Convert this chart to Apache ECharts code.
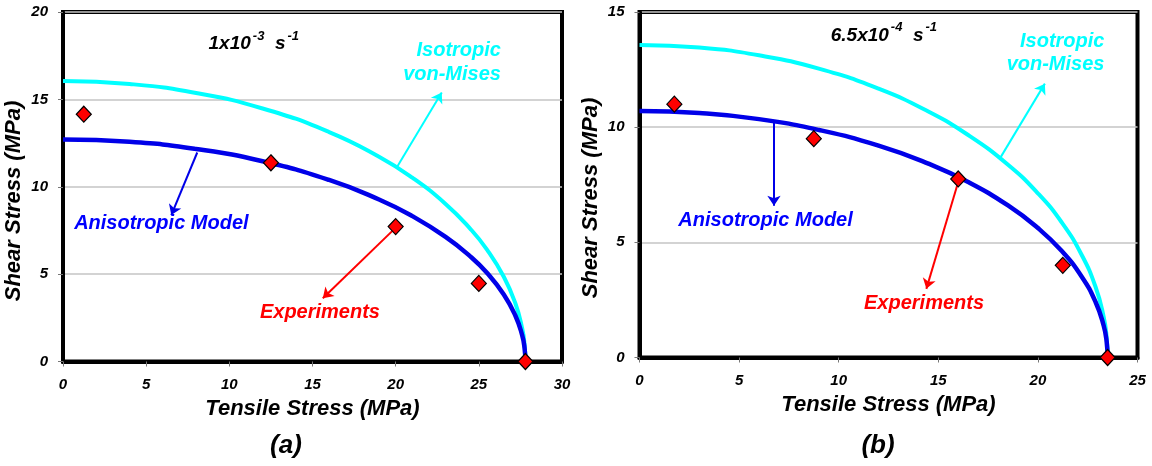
<!DOCTYPE html>
<html><head><meta charset="utf-8">
<script src="https://cdn.jsdelivr.net/npm/echarts@6/dist/echarts.min.js"></script>
<style>html,body{margin:0;padding:0;background:#fff}#c{width:1152px;height:466px}</style>
</head><body><div id="c"></div>
<script>
// ---------- data ----------
const curveA_x   = [0, 4, 8, 12, 16, 19, 21, 23, 24.5, 25.5, 26.5, 27.2, 27.6, 27.75, 27.8];
const anisoA_y   = [12.70, 12.57, 12.16, 11.46, 10.39, 9.27, 8.32, 7.13, 6.00, 5.06, 3.84, 2.62, 1.52, 0.76, 0];
const isoA_y     = [16.05, 15.88, 15.37, 14.48, 13.13, 11.72, 10.52, 9.02, 7.58, 6.39, 4.85, 3.32, 1.92, 0.96, 0];
const expA_x     = [1.25, 12.5, 20, 25, 27.8];
const expA_y     = [14.15, 11.37, 7.72, 4.47, 0];

const curveB_x   = [0, 3, 6, 9, 12, 14.5, 16.5, 18.5, 20, 21.2, 22.2, 22.9, 23.3, 23.45, 23.5];
const anisoB_y   = [10.70, 10.61, 10.35, 9.88, 9.20, 8.42, 7.62, 6.60, 5.62, 4.62, 3.51, 2.40, 1.39, 0.70, 0];
const isoB_y     = [13.57, 13.46, 13.12, 12.54, 11.67, 10.68, 9.66, 8.37, 7.13, 5.86, 4.45, 3.05, 1.77, 0.88, 0];
const expB_x     = [1.75, 8.75, 16, 21.25, 23.5];
const expB_y     = [11.0, 9.5, 7.75, 4.0, 0];

const xAxisA = {min: 0, max: 30, interval: 5};
const yAxisA = {min: 0, max: 20, interval: 5};
const xAxisB = {min: 0, max: 25, interval: 5};
const yAxisB = {min: 0, max: 15, interval: 5};

const rateA = ['1x10', '-3', 's', '-1'];
const rateB = ['6.5x10', '-4', 's', '-1'];
const labIso = ['Isotropic', 'von-Mises'];
const labAniso = 'Anisotropic Model';
const labExp = 'Experiments';
const xTitle = 'Tensile Stress (MPa)';
const yTitle = 'Shear Stress (MPa)';
const captions = ['(a)', '(b)'];

// annotation anchors (data units)
const arrowsA = {iso: [[20.1, 11.16], [22.77, 15.39]], aniso: [[8.07, 11.96], [6.51, 8.38]], exp: [[19.82, 7.49], [15.62, 3.62]]};
const arrowsB = {iso: [[18.14, 8.71], [20.35, 11.89]], aniso: [[6.75, 10.2], [6.75, 6.59]], exp: [[15.97, 7.53], [14.4, 2.98]]};
const textA = {rate: [8.75, 18.3], iso1: [26.33, 17.8], iso2: [26.33, 16.45], aniso: [0.67, 7.9], exp: [11.84, 2.78]};
const textB = {rate: [9.6, 14.09], iso1: [23.34, 13.74], iso2: [23.34, 12.7], aniso: [1.95, 5.94], exp: [11.27, 2.33]};

// ---------- chart ----------
const FONT = "'Liberation Sans', Arial, sans-serif";
const CYAN = '#00ffff', BLUE = '#0000e8', RED = '#ff0000';
const zip = (xs, ys) => xs.map((x, i) => [x, ys[i]]);
const chart = echarts.init(document.getElementById('c'), null, {renderer: 'canvas'});

function xAx(idx, ax) {
  return {
    type: 'value', gridIndex: idx, min: ax.min, max: ax.max, interval: ax.interval,
    name: xTitle, nameLocation: 'middle', nameGap: 36,
    nameTextStyle: {fontFamily: FONT, fontSize: 22, fontWeight: 'bold', fontStyle: 'italic', color: '#000'},
    axisLine: {show: true, onZero: false, lineStyle: {color: '#000', width: 4}},
    axisTick: {show: true, length: 5, lineStyle: {color: '#777', width: 1}},
    axisLabel: {margin: 16, fontFamily: FONT, fontSize: 15, fontWeight: 'bold', fontStyle: 'italic', color: '#000'},
    splitLine: {show: false}
  };
}
function yAx(idx, ax) {
  return {
    type: 'value', gridIndex: idx, min: ax.min, max: ax.max, interval: ax.interval,
    axisLine: {show: true, onZero: false, lineStyle: {color: '#000', width: 4}},
    axisTick: {show: true, length: 5, lineStyle: {color: '#777', width: 1}},
    axisLabel: {margin: 15, fontFamily: FONT, fontSize: 15, fontWeight: 'bold', fontStyle: 'italic', color: '#000'},
    splitLine: {show: true, lineStyle: {color: '#c4c4c4', width: 1.5}}
  };
}
function arrow(seg, color) {
  return {
    silent: true, symbol: ['none', 'arrow'], symbolSize: 10, animation: false,
    label: {show: false},
    emphasis: {disabled: true},
    itemStyle: {color: color},
    lineStyle: {color: color, width: 2, type: 'solid', opacity: 1},
    data: [[{coord: seg[0], symbol: 'none'}, {coord: seg[1], symbol: 'arrow', symbolSize: 10}]]
  };
}
function seriesFor(idx, cx, aniso, iso, ex, ey, arrows) {
  return [
    {type: 'line', xAxisIndex: idx, yAxisIndex: idx, data: zip(cx, iso), smooth: 0.5,
     showSymbol: false, symbol: 'none', lineStyle: {color: CYAN, width: 4}, z: 3, markLine: arrow(arrows.iso, CYAN)},
    {type: 'line', xAxisIndex: idx, yAxisIndex: idx, data: zip(cx, aniso), smooth: 0.5,
     showSymbol: false, symbol: 'none', lineStyle: {color: BLUE, width: 4.5}, z: 4, markLine: arrow(arrows.aniso, BLUE)},
    {type: 'scatter', xAxisIndex: idx, yAxisIndex: idx, data: zip(ex, ey), symbol: 'diamond', symbolSize: [15, 16],
     itemStyle: {color: RED, borderColor: '#000', borderWidth: 1.2, opacity: 1}, z: 6, clip: false, markLine: arrow(arrows.exp, RED)}
  ];
}

chart.setOption({
  animation: false,
  backgroundColor: '#fff',
  grid: [
    {left: 63, right: 590, top: 12, bottom: 104.5, show: true, borderColor: '#000', borderWidth: 4, backgroundColor: 'transparent'},
    {left: 639.5, right: 14.5, top: 12, bottom: 108.5, show: true, borderColor: '#000', borderWidth: 4, backgroundColor: 'transparent'}
  ],
  xAxis: [xAx(0, xAxisA), xAx(1, xAxisB)],
  yAxis: [yAx(0, yAxisA), yAx(1, yAxisB)],
  series: [].concat(
    seriesFor(0, curveA_x, anisoA_y, isoA_y, expA_x, expA_y, arrowsA),
    seriesFor(1, curveB_x, anisoB_y, isoB_y, expB_x, expB_y, arrowsB)
  )
});

// ---------- annotations placed through the axes ----------
const base = {fontFamily: FONT, fontWeight: 'bold', fontStyle: 'italic'};
function txt(gi, pt, text, color, align, size) {
  const p = chart.convertToPixel({gridIndex: gi}, pt);
  return {type: 'text', x: p[0], y: p[1], z: 50,
    style: Object.assign({}, base, {text: text, fill: color, fontSize: size || 20, align: align, verticalAlign: 'middle'})};
}
function rate(gi, pt, parts) {
  const p = chart.convertToPixel({gridIndex: gi}, pt);
  return {type: 'text', x: p[0], y: p[1], z: 50,
    style: {text: '{m|' + parts[0] + '}{s|' + parts[1] + '}{m|  ' + parts[2] + '}{s|' + parts[3] + '}',
      align: 'left', verticalAlign: 'middle',
      rich: {
        m: Object.assign({}, base, {fontSize: 19, lineHeight: 24, fill: '#000', verticalAlign: 'bottom'}),
        s: Object.assign({}, base, {fontSize: 13, lineHeight: 13, fill: '#000', verticalAlign: 'top', padding: [0, 0, 0, 2]})
      }}};
}
const g = [];
[[0, textA], [1, textB]].forEach(([gi, t]) => {
  g.push(rate(gi, t.rate, gi === 0 ? rateA : rateB));
  g.push(txt(gi, t.iso1, labIso[0], CYAN, 'right'));
  g.push(txt(gi, t.iso2, labIso[1], CYAN, 'right'));
  g.push(txt(gi, t.aniso, labAniso, '#0000ff', 'left'));
  g.push(txt(gi, t.exp, labExp, RED, 'left'));
});
// y axis titles (rotated) and panel captions
[[14, 201], [591, 198]].forEach(([x, y]) => {
  g.push({type: 'text', x: x, y: y, rotation: Math.PI / 2, z: 50,
    style: Object.assign({}, base, {text: yTitle, fontSize: 22, fill: '#000', align: 'center', verticalAlign: 'middle'})});
});
[[286, 446, captions[0]], [878, 446, captions[1]]].forEach(([x, y, t]) => {
  g.push({type: 'text', x: x, y: y, z: 50,
    style: Object.assign({}, base, {text: t, fontSize: 26, fill: '#000', align: 'center', verticalAlign: 'middle'})});
});
chart.setOption({graphic: g});
</script></body></html>
